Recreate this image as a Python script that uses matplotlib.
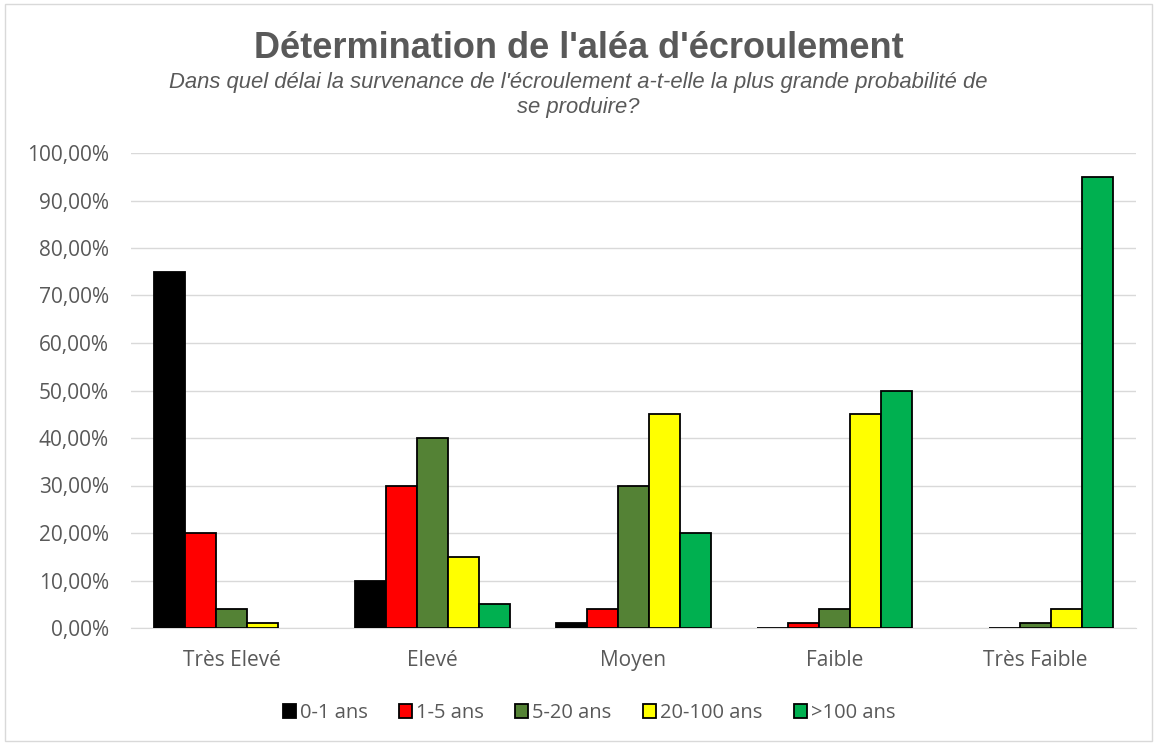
import matplotlib
matplotlib.use("Agg")
import matplotlib.pyplot as plt
import numpy as np
from matplotlib.ticker import FuncFormatter
from matplotlib.patches import Rectangle

categories = ["Très Elevé", "Elevé", "Moyen", "Faible", "Très Faible"]
series_names = ["0-1 ans", "1-5 ans", "5-20 ans", "20-100 ans", ">100 ans"]
colors = ["#000000", "#ff0000", "#548235", "#ffff00", "#00b050"]

# percent values per series (NaN = no value)
v_0_1 = [75, 10, 1, 0, np.nan]
v_1_5 = [20, 30, 4, 1, 0]
v_5_20 = [4, 40, 30, 4, 1]
v_20_100 = [1, 15, 45, 45, 4]
v_100 = [np.nan, 5, 20, 50, 95]
values = [v_0_1, v_1_5, v_5_20, v_20_100, v_100]

plt.rcParams['font.family'] = ['Open Sans', 'DejaVu Sans']
txt = "#595959"

fig = plt.figure(figsize=(11.57, 7.44), dpi=100)
ax = fig.add_axes([131 / 1157, 1 - 628 / 744, 1005 / 1157, 475 / 744])

x = np.arange(len(categories))
w = 0.154
for i, (name, vals, c) in enumerate(zip(series_names, values, colors)):
    ax.bar(x + (i - 2) * w, np.array(vals, dtype=float) / 100, w, color=c,
           edgecolor="black", linewidth=1.3, label=name, zorder=3)

ax.set_xlim(-0.5, len(categories) - 0.5)
ax.set_ylim(0, 1.0)
ax.set_yticks(np.arange(0, 1.01, 0.1))
ax.yaxis.set_major_formatter(FuncFormatter(lambda v, p: f"{v * 100:.2f}%".replace(".", ",")))
ax.set_xticks(x)
ax.set_xticklabels(categories)
ax.grid(axis="y", color="#d9d9d9", linewidth=1, zorder=0)
for s in ["top", "right", "left"]:
    ax.spines[s].set_visible(False)
ax.spines["bottom"].set_color("#d9d9d9")
ax.tick_params(length=0, labelsize=15, colors=txt)
ax.tick_params(axis="y", pad=16)
ax.tick_params(axis="x", pad=16)

fig.text(0.5, 1 - 48 / 744, "Détermination de l'aléa d'écroulement", ha="center", va="center",
         fontsize=26, fontweight="bold", color=txt, family=["Liberation Sans", "DejaVu Sans"])
fig.text(0.5, 1 - 95 / 744, "Dans quel délai la survenance de l'écroulement a-t-elle la plus grande probabilité de\nse produire?",
         ha="center", va="center", fontsize=15.8, style="italic", color=txt, linespacing=1.22,
         family=["Liberation Sans", "DejaVu Sans"])

fig.legend(*ax.get_legend_handles_labels(), loc="center", bbox_to_anchor=(589 / 1157, 1 - 713 / 744),
           ncol=5, frameon=False, fontsize=14.5, labelcolor=txt, handlelength=0.65,
           handleheight=0.65, handletextpad=0.2, columnspacing=1.55)

fig.patches.append(Rectangle((0.004, 0.004), 0.992, 0.99, transform=fig.transFigure,
                             fill=False, edgecolor="#d9d9d9", linewidth=1))

fig.savefig("out.png", dpi=100)
